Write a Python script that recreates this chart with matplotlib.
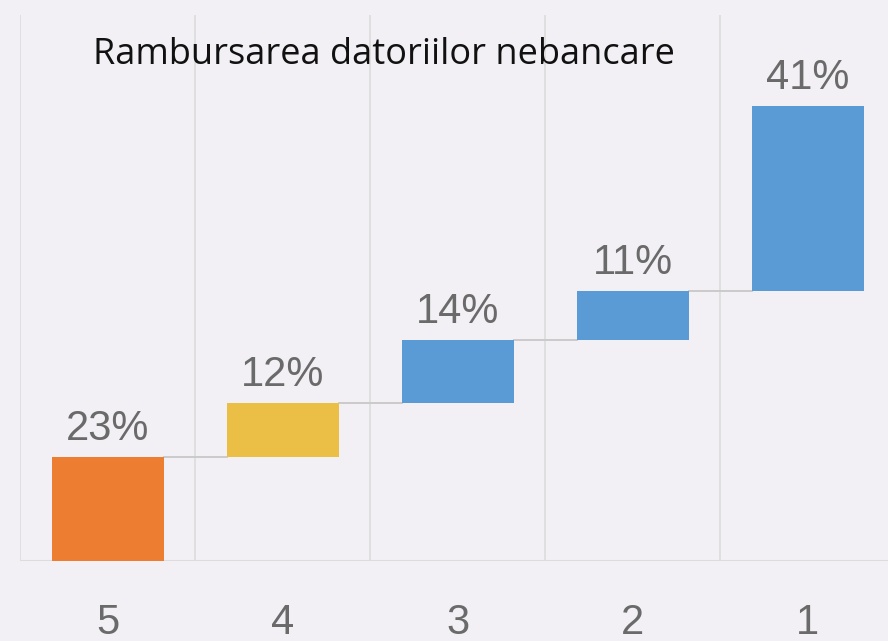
import numpy as np
import matplotlib.pyplot as plt

# data
categories = ['5', '4', '3', '2', '1']
values = [23, 12, 14, 11, 41]
colors = ['#ED7D31', '#EBBF46', '#5B9BD5', '#5B9BD5', '#5B9BD5']
title = 'Rambursarea datoriilor nebancare'

bg = '#F2F0F5'
x = np.arange(len(categories))
bottoms = np.concatenate([[0], np.cumsum(values)[:-1]])
tops = bottoms + np.array(values)
width = 0.64

fig = plt.figure(figsize=(8.88, 6.41), dpi=100, facecolor=bg)
ax = fig.add_axes([20 / 888, 80 / 641, 875 / 888, 546 / 641], facecolor=bg)

ax.bar(x, values, bottom=bottoms, width=width, color=colors, zorder=3)

# connectors between bars
for i in range(len(x) - 1):
    ax.plot([x[i] + width / 2, x[i + 1] - width / 2], [tops[i], tops[i]],
            color='#C8C8C8', lw=1.3, zorder=2)

# value labels
for xi, t, v in zip(x, tops, values):
    ax.annotate(f'{v}%', (xi, t), xytext=(0, 6), textcoords='offset points',
                ha='center', va='bottom', fontsize=30, color='#6A6A6A',
                family='Liberation Sans')

# vertical grid at category boundaries
for b in np.arange(-0.5, len(x), 1.0):
    ax.axvline(b, color='#DCDCDC', lw=1.2, zorder=1)
ax.axhline(0, color='#DCDCDC', lw=1.5, zorder=1)

ax.set_xlim(-0.5, len(x) - 0.5)
ax.set_ylim(0, 121.3)
ax.set_xticks(x)
ax.set_xticklabels(categories, fontsize=30, color='#6A6A6A', family='Liberation Sans')
ax.tick_params(axis='x', length=0, pad=30)
ax.set_yticks([])
for s in ax.spines.values():
    s.set_visible(False)

fig.text(384 / 888, 1 - 55 / 641, title, ha='center', va='center',
         fontsize=26, color='#111111', family='Open Sans')

fig.savefig('out.png', dpi=100, facecolor=bg)
